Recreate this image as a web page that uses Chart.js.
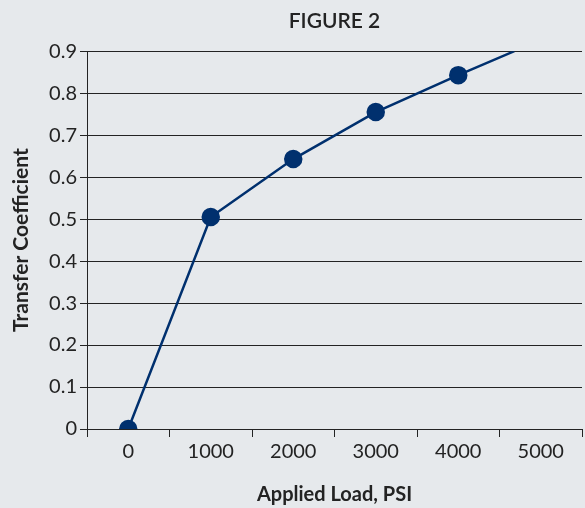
<!DOCTYPE html>
<html>
<head>
<meta charset="utf-8">
<script src="https://cdn.jsdelivr.net/npm/chart.js@4/dist/chart.umd.min.js"></script>
<style>
  html, body { margin: 0; padding: 0; background: #e6e9ec; }
  #wrap { width: 585px; height: 508px; }
</style>
</head>
<body>
<div id="wrap"><canvas id="lineChart" width="585" height="508"></canvas></div>
<script>
// data
const loads = [0, 1000, 2000, 3000, 4000, 4680];
const coefficients = [0, 0.505, 0.643, 0.755, 0.843, 0.9];
const pointSizes = [8, 8, 8, 8, 8, 0];
const yTicks = [0, 0.1, 0.2, 0.3, 0.4, 0.5, 0.6, 0.7, 0.8, 0.9];

const ink = '#232323';
const navy = '#00306e';
const font = 'Lato, "Liberation Sans", sans-serif';

document.addEventListener('DOMContentLoaded', () => {
    const ctx = document.getElementById('lineChart').getContext('2d');

    new Chart(ctx, {
        type: 'line',
        data: {
            datasets: [{
                label: 'Transfer Coefficient',
                data: loads.map((x, i) => ({ x: x, y: coefficients[i] })),
                borderColor: navy,
                backgroundColor: navy,
                borderWidth: 2.5,
                pointRadius: pointSizes,
                pointHoverRadius: pointSizes,
                tension: 0
            }]
        },
        options: {
            responsive: false,
            animation: false,
            layout: { padding: { top: 0, left: 0, bottom: 0, right: -3 }, autoPadding: false },
            plugins: {
                legend: { display: false },
                tooltip: { enabled: false },
                title: {
                    display: true,
                    fullSize: false,
                    text: 'FIGURE 2',
                    color: ink,
                    font: { family: font, size: 21, weight: '600' },
                    padding: { top: 9, bottom: 17 }
                }
            },
            scales: {
                x: {
                    type: 'linear',
                    min: -500,
                    max: 5500,
                    afterFit: (s) => { s.height = 79; },
                    border: { color: ink, width: 1 },
                    grid: {
                        drawOnChartArea: false,
                        drawTicks: true,
                        tickLength: 8,
                        tickColor: (c) => (c.tick && c.tick.value % 1000 === 0) ? 'rgba(0,0,0,0)' : ink
                    },
                    ticks: {
                        stepSize: 500,
                        autoSkip: false,
                        maxRotation: 0,
                        color: ink,
                        padding: 3,
                        font: { family: font, size: 20 },
                        callback: (v) => v % 1000 === 0 ? String(v) : ''
                    },
                    title: {
                        display: true,
                        text: 'Applied Load, PSI',
                        color: ink,
                        font: { family: font, size: 20, weight: 'bold' },
                        padding: { top: 0, bottom: 1 }
                    }
                },
                y: {
                    min: 0,
                    max: 0.9,
                    afterBuildTicks: (axis) => { axis.ticks = yTicks.map(v => ({ value: v })); },
                    afterFit: (s) => { s.width = 87; },
                    border: { color: ink, width: 1 },
                    grid: {
                        color: ink,
                        lineWidth: 1,
                        tickLength: 7
                    },
                    ticks: {
                        color: ink,
                        padding: 3,
                        font: { family: font, size: 20 },
                        callback: (v) => v === 0 ? '0' : v.toFixed(1)
                    },
                    title: {
                        display: true,
                        text: 'Transfer Coefficient',
                        color: ink,
                        font: { family: font, size: 21, weight: 'bold' },
                        padding: { top: 9, bottom: 4 }
                    }
                }
            }
        }
    });
});
</script>
</body>
</html>
